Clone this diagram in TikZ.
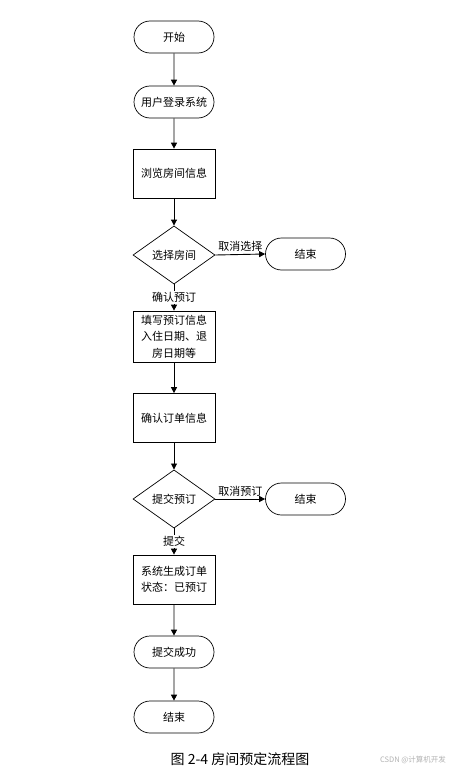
\documentclass[tikz,border=0pt]{standalone}
\usepackage{fontspec}
\setmainfont{Noto Sans CJK SC}
\usetikzlibrary{shapes.geometric,shapes.misc,arrows.meta,positioning}

\begin{document}
\begin{tikzpicture}[x=1pt, y=1pt,
  every node/.style={font=\fontsize{11}{16.5}\selectfont},
  term/.style={draw, line width=0.7pt, rounded rectangle, minimum width=82pt, minimum height=32pt, inner sep=1pt},
  proc/.style={draw, line width=0.7pt, rectangle, minimum width=82pt, minimum height=49pt, inner sep=2pt, align=center},
  decide/.style={draw, line width=0.7pt, diamond, minimum width=82pt, minimum height=48pt, inner sep=1pt},
  flow/.style={draw, line width=0.9pt, -{Triangle[length=6pt, width=6pt]}},
  tag/.style={fill=white, inner sep=1pt}]
  \useasboundingbox (0, 0) rectangle (461, -776);

  \node[term] (start) at (174, -37) {开始};
  \node[term] (login) at (174, -102) {用户登录系统};
  \node[proc] (browse) at (174, -173.5) {浏览房间信息};
  \node[decide] (choose) at (174, -255) {选择房间};
  \node[term] (endA) at (305.5, -254) {结束};
  \node[proc, minimum height=51pt] (fill) at (174, -336.5) {填写预订信息\\入住日期、退\\房日期等};
  \node[proc] (confirm) at (174, -418) {确认订单信息};
  \node[decide] (submit) at (174, -499) {提交预订};
  \node[term] (endB) at (305.5, -499) {结束};
  \node[proc] (order) at (174, -579.5) {系统生成订单\\状态：已预订};
  \node[term] (done) at (174, -652) {提交成功};
  \node[term] (finish) at (174, -717) {结束};

  \node[font=\fontsize{14}{16}\selectfont] (caption) at (240, -759) {图 2-4 房间预定流程图};
  \node[font=\fontsize{7.5}{9}\selectfont, text=black!30] (mark) at (413, -760) {CSDN @计算机开发};

  \draw[flow] (start) -- (login);
  \draw[flow] (login) -- (browse);
  \draw[flow] (browse) -- (choose);
  \draw[flow] (choose.east) -- node[above, inner sep=2.5pt] {取消选择} (endA.west);
  \draw[flow] (choose) -- node[tag] {确认预订} (fill);
  \draw[flow] (fill) -- (confirm);
  \draw[flow] (confirm) -- (submit);
  \draw[flow] (submit.east) -- node[above, inner sep=2.5pt] {取消预订} (endB.west);
  \draw[flow] (submit) -- node[tag] {提交} (order);
  \draw[flow] (order) -- (done);
  \draw[flow] (done) -- (finish);
\end{tikzpicture}
\end{document}
